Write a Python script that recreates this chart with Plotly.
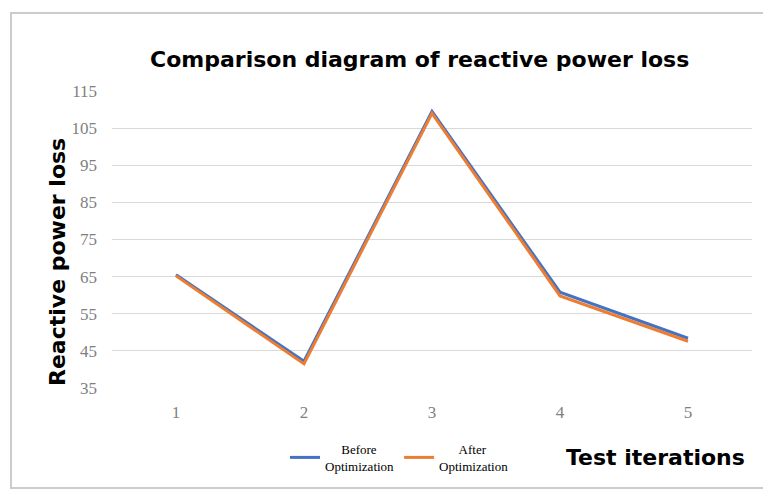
import plotly.graph_objects as go

# Test iterations and reactive power loss values
iterations = ["1", "2", "3", "4", "5"]
before_opt = [65.5, 42.2, 109.5, 60.8, 48.4]
after_opt = [65.2, 41.5, 109.0, 59.8, 47.6]
y_ticks = [35, 45, 55, 65, 75, 85, 95, 105, 115]

W, H = 763, 491
ML, MR, MT, MB = 112, 11, 91, 103
PW, PH = W - ML - MR, H - MT - MB


def px_x(px):
    return (px - ML) / PW


def px_y(py):
    return 1 - (py - MT) / PH


fig = go.Figure()
fig.add_trace(go.Scatter(
    x=iterations, y=before_opt, mode="lines",
    name="&nbsp;&nbsp;&nbsp;&nbsp;&nbsp;Before<br>Optimization",
    line=dict(color="#4472C4", width=3),
))
fig.add_trace(go.Scatter(
    x=iterations, y=after_opt, mode="lines",
    name="&nbsp;&nbsp;&nbsp;&nbsp;&nbsp;&nbsp;After<br>Optimization",
    line=dict(color="#ED7D31", width=3),
))

tick_font = dict(family="Liberation Serif, DejaVu Serif, serif", size=17, color="#7f7f7f")
bold_font = "DejaVu Sans, Liberation Sans, sans-serif"

fig.update_layout(
    width=W, height=H,
    margin=dict(l=ML, r=MR, t=MT, b=MB, autoexpand=False),
    paper_bgcolor="white", plot_bgcolor="white",
    showlegend=True,
    legend=dict(
        orientation="h", x=px_x(285), y=px_y(434), xanchor="left", yanchor="top",
        font=dict(family="Liberation Serif, serif", size=13, color="black"),
        itemwidth=30, tracegroupgap=0, bgcolor="rgba(0,0,0,0)",
    ),
    xaxis=dict(
        type="category", range=[-0.5, 4.5], showgrid=False, zeroline=False,
        showline=False, ticks="", tickfont=tick_font, ticklabelstandoff=12,
    ),
    yaxis=dict(
        range=[35, 115], tickvals=y_ticks, showgrid=True, gridcolor="#d9d9d9",
        gridwidth=1, zeroline=False, showline=False, ticks="",
        tickfont=tick_font, ticklabelstandoff=14,
    ),
    shapes=[dict(
        type="rect", xref="paper", yref="paper",
        x0=px_x(11), x1=px_x(775), y0=px_y(488), y1=px_y(13),
        line=dict(color="#cccccc", width=2), fillcolor="rgba(0,0,0,0)",
        layer="below",
    )],
    annotations=[
        dict(
            text="<b>Comparison diagram of reactive power loss</b>",
            xref="paper", yref="paper", x=px_x(419), y=px_y(60),
            xanchor="center", yanchor="middle", showarrow=False,
            font=dict(family=bold_font, size=22, color="black"),
        ),
        dict(
            text="<b>Reactive power loss</b>",
            xref="paper", yref="paper", x=px_x(57), y=px_y(262),
            xanchor="center", yanchor="middle", textangle=-90, showarrow=False,
            font=dict(family=bold_font, size=22, color="black"),
        ),
        dict(
            text="<b>Test iterations</b>",
            xref="paper", yref="paper", x=px_x(655), y=px_y(457),
            xanchor="center", yanchor="middle", showarrow=False,
            font=dict(family=bold_font, size=22, color="black"),
        ),
    ],
)

fig.write_html("out.html")
